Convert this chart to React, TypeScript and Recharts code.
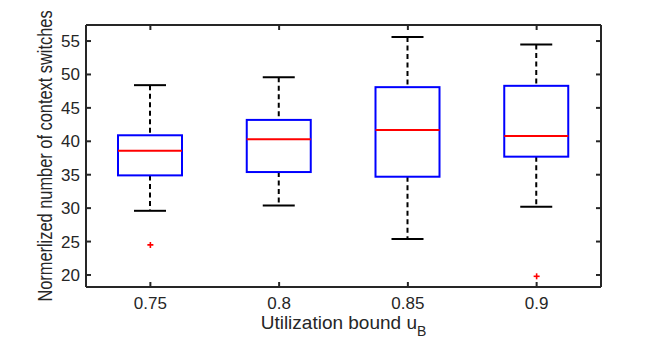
import { Bar, ComposedChart, Label, Scatter, XAxis, YAxis } from "recharts"

const categories = ["0.75", "0.8", "0.85", "0.9"]
const whiskerLow = [29.6, 30.4, 25.4, 30.2]
const q1 = [34.9, 35.4, 34.7, 37.7]
const median = [38.6, 40.3, 41.7, 40.8]
const q3 = [40.9, 43.2, 48.1, 48.3]
const whiskerHigh = [48.4, 49.6, 55.6, 54.5]
const outliers = [24.5, null, null, 19.8]
const yTicks = [20, 25, 30, 35, 40, 45, 50, 55]

const data = categories.map((label, i) => ({
  label,
  range: [whiskerLow[i], whiskerHigh[i]],
  low: whiskerLow[i],
  q1: q1[i],
  median: median[i],
  q3: q3[i],
  high: whiskerHigh[i],
  outlier: outliers[i],
}))

const font = "'Liberation Sans', Arial, sans-serif"
const frame = "#262626"

const BoxShape = (props: any) => {
  const { x, y, width, height } = props
  const p = props.payload ?? props
  // map a value into the bar's pixel span (bar runs from low to high)
  const toY = (v: number) => y + (height * (p.high - v)) / (p.high - p.low)
  const cx = x + width / 2
  const cap = width / 4
  return (
    <g>
      <line x1={cx} x2={cx} y1={toY(p.high)} y2={toY(p.q3)} stroke="#000" strokeWidth={2} strokeDasharray="5 3.5" />
      <line x1={cx} x2={cx} y1={toY(p.q1)} y2={toY(p.low)} stroke="#000" strokeWidth={2} strokeDasharray="5 3.5" />
      <line x1={cx - cap} x2={cx + cap} y1={toY(p.high)} y2={toY(p.high)} stroke="#000" strokeWidth={2} />
      <line x1={cx - cap} x2={cx + cap} y1={toY(p.low)} y2={toY(p.low)} stroke="#000" strokeWidth={2} />
      <rect x={x} y={toY(p.q3)} width={width} height={toY(p.q1) - toY(p.q3)} fill="none" stroke="#0000ff" strokeWidth={2} />
      <line x1={x} x2={x + width} y1={toY(p.median)} y2={toY(p.median)} stroke="#ff0000" strokeWidth={2} />
    </g>
  )
}

const PlusShape = (props: any) => {
  const { cx, cy } = props
  const p = props.payload ?? props
  if (p.outlier == null || !Number.isFinite(cx) || !Number.isFinite(cy)) return <g />
  return (
    <g stroke="#ff0000" strokeWidth={1.6}>
      <line x1={cx - 3} x2={cx + 3} y1={cy} y2={cy} />
      <line x1={cx} x2={cx} y1={cy - 3} y2={cy + 3} />
    </g>
  )
}

const BottomTick = (props: any) => {
  const { x, y, payload } = props
  return (
    <g>
      <line x1={x} x2={x} y1={y} y2={y - 5} stroke={frame} strokeWidth={2} />
      <text x={x} y={y + 22} textAnchor="middle" fontSize={17} fontFamily={font} fill={frame}>
        {payload.value}
      </text>
    </g>
  )
}

const TopTick = (props: any) => {
  const { x, y } = props
  return <line x1={x} x2={x} y1={y} y2={y + 5} stroke={frame} strokeWidth={2} />
}

const LeftTick = (props: any) => {
  const { x, y, payload } = props
  return (
    <g>
      <line x1={x} x2={x + 5} y1={y} y2={y} stroke={frame} strokeWidth={2} />
      <text x={x - 6} y={y + 6} textAnchor="end" fontSize={17} fontFamily={font} fill={frame}>
        {payload.value}
      </text>
    </g>
  )
}

const RightTick = (props: any) => {
  const { x, y } = props
  return <line x1={x} x2={x - 5} y1={y} y2={y} stroke={frame} strokeWidth={2} />
}

export default function App() {
  return (
    <div style={{ position: "absolute", left: 0, top: 0, width: 664, height: 341, background: "#fff" }}>
      <ComposedChart width={664} height={341} data={data} margin={{ top: 24, right: 62, left: 0, bottom: 0 }}>
        <XAxis
          dataKey="label"
          height={54}
          tickSize={0}
          tickMargin={0}
          tick={<BottomTick />}
          tickLine={false}
          axisLine={{ stroke: frame, strokeWidth: 2 }}
        >
          <Label
            content={({ viewBox }: any) => (
              <text
                x={viewBox.x + viewBox.width / 2}
                y={viewBox.y + 42}
                textAnchor="middle"
                fontSize={19}
                fontFamily={font}
                fill={frame}
              >
                Utilization bound u
                <tspan dy={7} fontSize={14}>
                  B
                </tspan>
              </text>
            )}
          />
        </XAxis>
        <XAxis
          xAxisId="top"
          orientation="top"
          dataKey="label"
          height={1}
          tickSize={0}
          tickMargin={0}
          tick={<TopTick />}
          tickLine={false}
          axisLine={{ stroke: frame, strokeWidth: 2 }}
        />
        <YAxis
          width={86}
          domain={[18.2, 57.4]}
          ticks={yTicks}
          allowDataOverflow
          tickSize={0}
          tickMargin={0}
          tick={<LeftTick />}
          tickLine={false}
          axisLine={{ stroke: frame, strokeWidth: 2 }}
        >
          <Label
            content={({ viewBox }: any) => {
              const lx = viewBox.x + 52
              const ly = viewBox.y + viewBox.height / 2
              // the original label is squeezed along its length
              return (
                <g transform={`translate(${lx}, ${ly}) rotate(-90) scale(0.78, 1)`}>
                  <text x={0} y={0} textAnchor="middle" fontSize={21} fontFamily={font} fill={frame}>
                    Normerlized number of context switches
                  </text>
                </g>
              )
            }}
          />
        </YAxis>
        <YAxis
          yAxisId="right"
          orientation="right"
          width={1}
          domain={[18.2, 57.4]}
          ticks={yTicks}
          allowDataOverflow
          tickSize={0}
          tickMargin={0}
          tick={<RightTick />}
          tickLine={false}
          axisLine={{ stroke: frame, strokeWidth: 2 }}
        />
        <Bar dataKey="range" barSize={64} shape={<BoxShape />} isAnimationActive={false} />
        <Scatter
          dataKey="outlier"
          xAxisId="top"
          yAxisId="right"
          shape={<PlusShape />}
          isAnimationActive={false}
        />
      </ComposedChart>
    </div>
  )
}
